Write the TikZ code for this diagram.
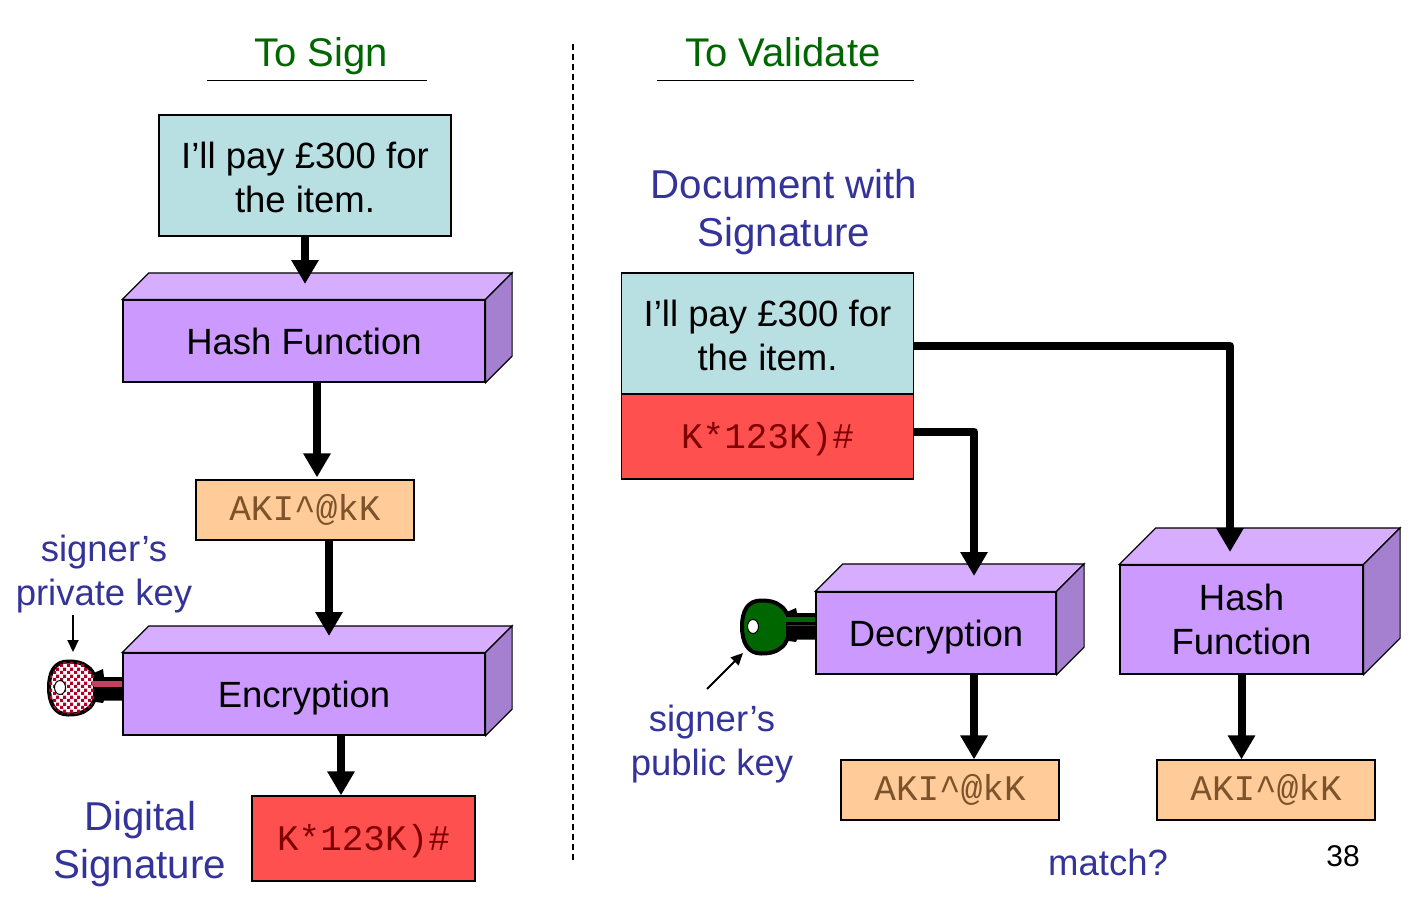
\documentclass[tikz,border=0pt]{standalone}
\usepackage{fontspec}
\setmainfont{Liberation Sans}
\newfontfamily\codefont{Liberation Mono}
\usepackage{tikz}
\usetikzlibrary{
        arrows.meta,
        patterns,
        positioning
    }
\definecolor{notefill}{HTML}{B8E0E3}
\definecolor{boxfill}{HTML}{CC99FF}
\definecolor{boxtop}{HTML}{D6ADFF}
\definecolor{boxside}{HTML}{A680D0}
\definecolor{hashfill}{HTML}{FFCC99}
\definecolor{signfill}{HTML}{FF5050}
\definecolor{headgreen}{HTML}{006600}
\definecolor{labelblue}{HTML}{333399}
\definecolor{keyred}{HTML}{B0002A}
\pgfdeclarepatternformonly{keychecks}{\pgfqpoint{0pt}{0pt}}{\pgfqpoint{6.6pt}{6.6pt}}{\pgfqpoint{6.6pt}{6.6pt}}{
    \pgfpathrectangle{\pgfqpoint{0pt}{0pt}}{\pgfqpoint{3.3pt}{3.3pt}}
    \pgfpathrectangle{\pgfqpoint{3.3pt}{3.3pt}}{\pgfqpoint{3.3pt}{3.3pt}}
    \pgfusepath{fill}
}
\tikzset{
    x=1pt,y=-1pt,
    flow/.style={line width=8pt,-{Triangle[width=26pt,length=24pt]},line join=round},
    thinflow/.style={line width=2pt,-{Triangle[width=11pt,length=12pt]}},
    heading/.style={text=headgreen,anchor=base,font=\fontsize{40}{48}\selectfont},
    caption/.style={text=labelblue,align=center,font=\fontsize{36.5}{44}\selectfont},
    bigcaption/.style={text=labelblue,align=center,font=\fontsize{40.3}{48}\selectfont},
    notebox/.style={draw,line width=1.2pt,fill=notefill,minimum width=292pt,minimum height=121pt,
        inner sep=0pt,align=center,text height=73.5pt,text depth=0pt,font=\fontsize{36.5}{44}\selectfont},
    cubefront/.style={draw,line width=1.2pt,fill=boxfill,inner sep=0pt,align=center,text depth=0pt,
        font=\fontsize{36.5}{44}\selectfont},
    digestbox/.style={draw,line width=1.2pt,fill=hashfill,minimum width=218pt,minimum height=60pt,
        inner sep=0pt,text depth=5pt,text=brown!65!black,font=\fontsize{36}{44}\codefont},
    signbox/.style={draw,line width=1.2pt,fill=signfill,inner sep=0pt,text depth=2pt,
        text=red!50!black,font=\fontsize{36}{44}\codefont}
}
% top and side faces behind a front node: name, depth
\newcommand{\cubefaces}[2]{
    \draw[line width=1.2pt,fill=boxtop] (#1.north west) -- ++(#2,-#2) -- ([shift={(#2,-#2)}]#1.north east) -- (#1.north east) -- cycle;
    \draw[line width=1.2pt,fill=boxside] (#1.north east) -- ++(#2,-#2) -- ([shift={(#2,-#2)}]#1.south east) -- (#1.south east) -- cycle;
}
% key at head centre: x, y, blade top, head fill options, stripe fill options
\newcommand{\keyicon}[5]{
    \begin{scope}[shift={(#1,#2)}]
        \fill[black] (20,-#3) -- (23,-15) -- (31,-18.5) -- (32,-#3) -- (51,-#3) -- (51,13) -- (32,13) -- (31,15.5) -- (20,14) -- cycle;
        \draw[line width=4pt,#4] (23,-11) .. controls (21,-14) and (20,-18) .. (15,-21)
            .. controls (10,-25) and (4,-26) .. (-4,-26)
            .. controls (-17,-26) and (-23,-16) .. (-23,0)
            .. controls (-23,16) and (-17,27) .. (-4,27)
            .. controls (4,27) and (10,26) .. (15,22)
            .. controls (20,19) and (21,15) .. (23,11) -- cycle;
        \fill[#5] (20,-#3+4) rectangle (51,-#3+9);
        \fill[#5] (22,-2) rectangle (51,-0.8);
        \draw[line width=1pt,fill=white] (-12,0) ellipse (5.5 and 7);
    \end{scope}
}

\begin{document}
\begin{tikzpicture}
    \useasboundingbox (0,0) rectangle (1420,907);
    \fill[white] (0,0) rectangle (1420,907);

    % left column
    \node[heading] (titleS) at (321,66.5) {To Sign};
    \coordinate (ruleSa) at (207,80);
    \coordinate (ruleSb) at (427,80);
    \draw[line width=1pt] (ruleSa) -- (ruleSb);
    \node[notebox] (noteS) at (305,175.5) {I’ll pay £300 for\\the item.};
    \node[cubefront,minimum width=362pt,minimum height=82pt] (hashS) at (304,341) {Hash Function};
    \cubefaces{hashS}{26.5}
    \node[digestbox] (digestS) at (305,510) {AKI\textasciicircum @kK};
    \node[caption] (privS) at (104,574) {signer’s\\private key};
    \keyicon{72}{687.5}{10.5}{fill=white,postaction={pattern=keychecks,pattern color=keyred}}{fill=keyred!75!white}
    \node[cubefront,minimum width=362pt,minimum height=82pt] (encS) at (304,694) {Encryption};
    \cubefaces{encS}{26.5}
    \node[signbox,minimum width=223pt,minimum height=85pt] (sigS) at (363.5,838.5) {K*123K)\#};
    \node[bigcaption] (digS) at (140,844) {Digital\\Signature};
    \coordinate (hashSin) at (305,284);
    \coordinate (encSin) at (329,636);
    \coordinate (keySa) at (73,615);
    \coordinate (keySb) at (73,652);

    % divider
    \coordinate (divA) at (573,44);
    \coordinate (divB) at (573,860);
    \draw[line width=1.3pt,dash pattern=on 6pt off 4pt] (divA) -- (divB);

    % right column
    \node[heading] (titleV) at (783,66.5) {To Validate};
    \coordinate (ruleVa) at (657,80);
    \coordinate (ruleVb) at (914,80);
    \draw[line width=1pt] (ruleVa) -- (ruleVb);
    \node[bigcaption] (docV) at (784,212) {Document with\\Signature};
    \node[notebox] (noteV) at (767.5,333.5) {I’ll pay £300 for\\the item.};
    \node[signbox,minimum width=292pt,minimum height=85pt] (sigV) at (767.5,436.5) {K*123K)\#};
    \keyicon{765}{626.5}{13.5}{fill=headgreen}{fill=headgreen}
    \node[cubefront,minimum width=240pt,minimum height=82pt] (decV) at (936,633) {Decryption};
    \cubefaces{decV}{27.5}
    \node[cubefront,minimum width=243pt,minimum height=109pt] (hashV) at (1241.5,619.5) {Hash\\Function};
    \cubefaces{hashV}{36.5}
    \node[digestbox] (digestA) at (950,790) {AKI\textasciicircum @kK};
    \node[digestbox] (digestB) at (1266,790) {AKI\textasciicircum @kK};
    \node[caption] (pubV) at (712,744) {signer’s\\public key};
    \node[caption] (matchV) at (1108,862) {match?};
    \node[font=\fontsize{30}{36}\selectfont] (pageV) at (1343,856) {38};
    \coordinate (hashVin) at (1230,552);
    \coordinate (decVin) at (974,576);
    \coordinate (keyVa) at (707,689);
    \coordinate (keyVb) at (743,653);

    \draw[flow] (noteS.south) -- (hashSin);
    \draw[flow] ([xshift=13pt]hashS.south) -- ([xshift=13pt,yshift=2pt]hashS.south |- digestS.north);
    \draw[flow] ([xshift=24pt]digestS.south) -- (encSin);
    \draw[flow] ([xshift=37pt]encS.south) -- ([xshift=37pt]encS.south |- sigS.north);
    \draw[flow] ([xshift=38pt]decV.south) -- ([xshift=38pt]decV.south |- digestA.north);
    \draw[flow] (hashV.south) -- (hashV.south |- digestB.north);
    \draw[flow] ([yshift=-12pt]noteV.east) -| (hashVin);
    \draw[flow] ([yshift=5pt]sigV.east) -| (decVin);
    \draw[thinflow] (keySa) -- (keySb);
    \draw[thinflow] (keyVa) -- (keyVb);
\end{tikzpicture}
\end{document}
